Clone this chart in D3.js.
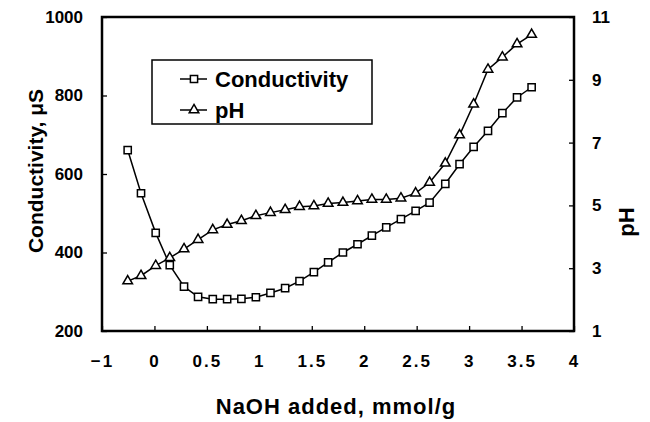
<!DOCTYPE html>
<html>
<head>
<meta charset="utf-8">
<script src="https://cdn.jsdelivr.net/npm/d3@7"></script>
<style>
  body { margin: 0; background: #fff; }
  svg text { font-family: "Liberation Sans", Arial, sans-serif; fill: #000; }
  .tick text { font-size: 17px; font-weight: bold; }
  .xaxis .tick text { letter-spacing: 2px; }
  .title { font-size: 22px; font-weight: bold; }
  .legend text { font-size: 22px; font-weight: bold; }
</style>
</head>
<body>
<svg id="chart" width="650" height="422"></svg>
<script>
// NaOH added (mmol/g), same for both series
const naoh = [-0.255, -0.128, 0.012, 0.146, 0.282, 0.416, 0.556, 0.693, 0.829, 0.967,
  1.106, 1.246, 1.383, 1.520, 1.656, 1.797, 1.936, 2.073, 2.210, 2.350,
  2.490, 2.623, 2.773, 2.909, 3.043, 3.180, 3.317, 3.457, 3.596];
const conductivity = [661, 551, 450, 368, 313, 287, 281, 281, 282, 286,
  297, 309, 327, 350, 375, 400, 421, 443, 464, 485,
  506, 527, 575, 625, 669, 710, 755, 795, 821];
const pH = [2.59, 2.76, 3.08, 3.33, 3.61, 3.91, 4.22, 4.39, 4.51, 4.67,
  4.77, 4.86, 4.96, 4.98, 5.06, 5.09, 5.14, 5.19, 5.19, 5.23,
  5.39, 5.73, 6.34, 7.24, 8.22, 9.33, 9.72, 10.14, 10.44];

const xTicks = [-0.5, 0, 0.5, 1, 1.5, 2, 2.5, 3, 3.5, 4];
const xTickLabels = ["\u22121", "0", "0.5", "1", "1.5", "2", "2.5", "3", "3.5", "4"];
const condTicks = [200, 400, 600, 800, 1000];
const pHTicks = [1, 3, 5, 7, 9, 11];

const svg = d3.select("#chart");
const m = { left: 102, right: 574, top: 17, bottom: 331 };

const x = d3.scaleLinear().domain([-0.5, 4]).range([m.left, m.right]);
const yC = d3.scaleLinear().domain([200, 1000]).range([m.bottom, m.top]);
const yP = d3.scaleLinear().domain([1, 11]).range([m.bottom, m.top]);

// axes, ticks pointing inward
svg.append("g").attr("class", "xaxis")
  .attr("transform", `translate(0,${m.bottom})`)
  .call(d3.axisBottom(x).tickValues(xTicks)
    .tickFormat((d, i) => xTickLabels[i])
    .tickSizeInner(-5).tickSizeOuter(0).tickPadding(24))
  .call(g => g.select(".domain").remove());

svg.append("g")
  .attr("transform", `translate(${m.left},0)`)
  .call(d3.axisLeft(yC).tickValues(condTicks).tickFormat(d3.format("d"))
    .tickSizeInner(-5).tickSizeOuter(0).tickPadding(19))
  .call(g => g.select(".domain").remove());

svg.append("g")
  .attr("transform", `translate(${m.right},0)`)
  .call(d3.axisRight(yP).tickValues(pHTicks).tickFormat(d3.format("d"))
    .tickSizeInner(-5).tickSizeOuter(0).tickPadding(18))
  .call(g => g.select(".domain").remove());

svg.selectAll(".tick line").attr("stroke", "#000").attr("stroke-width", 1.3);

// frame
svg.append("rect")
  .attr("x", m.left).attr("y", m.top)
  .attr("width", m.right - m.left).attr("height", m.bottom - m.top)
  .attr("fill", "none").attr("stroke", "#000").attr("stroke-width", 2.5);

// axis titles
svg.append("text").attr("class", "title")
  .attr("x", (m.left + m.right) / 2 - 2).attr("y", 414)
  .attr("text-anchor", "middle")
  .style("letter-spacing", "1px")
  .text("NaOH added, mmol/g");

svg.append("text").attr("class", "title")
  .attr("transform", `translate(43,${(m.top + m.bottom) / 2 - 3}) rotate(-90)`)
  .attr("text-anchor", "middle")
  .style("font-size", "21px")
  .text("Conductivity, \u03bcS");

svg.append("text").attr("class", "title")
  .attr("transform", `translate(634,222) rotate(-90)`)
  .attr("text-anchor", "middle")
  .text("pH");

// series
const condPts = naoh.map((d, i) => [d, conductivity[i]]);
const pHPts = naoh.map((d, i) => [d, pH[i]]);

const lineC = d3.line().x(d => x(d[0])).y(d => yC(d[1]));
const lineP = d3.line().x(d => x(d[0])).y(d => yP(d[1]));

svg.append("path").datum(condPts).attr("d", lineC)
  .attr("fill", "none").attr("stroke", "#000").attr("stroke-width", 1.5);
svg.append("path").datum(pHPts).attr("d", lineP)
  .attr("fill", "none").attr("stroke", "#000").attr("stroke-width", 1.5);

const sq = d3.symbol().type(d3.symbolSquare).size(52);
const tri = d3.symbol().type(d3.symbolTriangle).size(40);

svg.append("g").selectAll("path").data(condPts).join("path")
  .attr("transform", d => `translate(${x(d[0])},${yC(d[1])})`)
  .attr("d", sq).attr("fill", "#fff").attr("stroke", "#000").attr("stroke-width", 1.5);

svg.append("g").selectAll("path").data(pHPts).join("path")
  .attr("transform", d => `translate(${x(d[0])},${yP(d[1])})`)
  .attr("d", tri).attr("fill", "#fff").attr("stroke", "#000").attr("stroke-width", 1.5);

// legend
const legend = svg.append("g").attr("class", "legend");
legend.append("rect")
  .attr("x", 152).attr("y", 60).attr("width", 220).attr("height", 64)
  .attr("fill", "#fff").attr("stroke", "#000").attr("stroke-width", 1.5);

const items = [{ label: "Conductivity", sym: sq, y: 79 }, { label: "pH", sym: tri, y: 110 }];
items.forEach(it => {
  legend.append("line").attr("x1", 180).attr("x2", 207)
    .attr("y1", it.y).attr("y2", it.y).attr("stroke", "#000").attr("stroke-width", 1.5);
  legend.append("path").attr("transform", `translate(194,${it.y})`)
    .attr("d", it.sym).attr("fill", "#fff").attr("stroke", "#000").attr("stroke-width", 1.5);
  legend.append("text").attr("x", 215).attr("y", it.y).attr("dy", "0.35em").text(it.label);
});
</script>
</body>
</html>
